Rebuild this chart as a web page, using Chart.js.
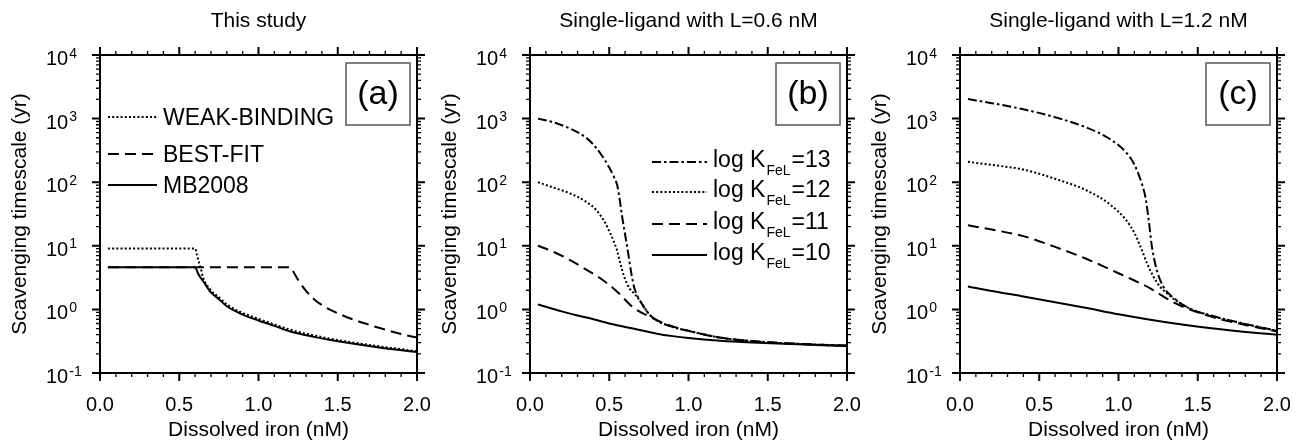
<!DOCTYPE html>
<html>
<head>
<meta charset="utf-8">
<script src="https://cdn.jsdelivr.net/npm/chart.js@4.4.1/dist/chart.umd.min.js"></script>
<style>
  html, body { margin: 0; background: #fff; }
  #wrap { position: relative; width: 1301px; height: 447px; overflow: hidden; }
  .panel { position: absolute; top: 0; width: 433px; height: 447px; }
</style>
</head>
<body>
<div id="wrap">
  <div class="panel" style="left:0px"><canvas id="chartA"></canvas></div>
  <div class="panel" style="left:430px"><canvas id="chartB"></canvas></div>
  <div class="panel" style="left:860px"><canvas id="chartC"></canvas></div>
</div>
<script>
// axis ticks
const xTickLabels = ['0.0', '0.5', '1.0', '1.5', '2.0'];
const yExponents = [-1, 0, 1, 2, 3, 4];

// (a) This study
const ironWeakA = [0.05, 0.6, 0.61, 0.62, 0.635, 0.65, 0.7, 0.75, 0.8, 0.9, 1.0, 1.1, 1.2, 1.35, 1.5, 1.75, 2.0];
const tauWeakA = [9.1, 9.1, 7.4, 6.0, 4.5, 3.2, 2.0, 1.55, 1.2, 0.88, 0.71, 0.58, 0.48, 0.39, 0.33, 0.265, 0.22];
const ironBestA = [0.05, 1.2, 1.22, 1.25, 1.3, 1.35, 1.4, 1.5, 1.6, 1.7, 1.8, 1.9, 2.0];
const tauBestA = [4.6, 4.6, 3.9, 2.9, 1.95, 1.45, 1.17, 0.87, 0.69, 0.57, 0.48, 0.41, 0.36];
const ironMbA = [0.05, 0.6, 0.62, 0.65, 0.7, 0.75, 0.8, 0.9, 1.0, 1.1, 1.2, 1.35, 1.5, 1.75, 2.0];
const tauMbA = [4.6, 4.6, 3.6, 2.8, 1.85, 1.45, 1.12, 0.83, 0.67, 0.55, 0.45, 0.37, 0.315, 0.255, 0.214];

// (b) single ligand, L = 0.6 nM
const ironK13B = [0.05, 0.15, 0.25, 0.35, 0.4, 0.45, 0.5, 0.53, 0.55, 0.565, 0.58, 0.6, 0.62, 0.64, 0.66, 0.7, 0.75, 0.8, 0.9, 1.0, 1.2, 1.4, 1.6, 1.8, 2.0];
const tauK13B = [1000, 870, 700, 510, 390, 270, 170, 120, 90, 55, 30, 15, 7.5, 3.6, 2.1, 1.3, 0.85, 0.67, 0.53, 0.46, 0.36, 0.318, 0.295, 0.28, 0.27];
const ironK12B = [0.05, 0.15, 0.25, 0.35, 0.42, 0.47, 0.5, 0.53, 0.55, 0.57, 0.59, 0.61, 0.63, 0.66, 0.7, 0.75, 0.8, 0.9, 1.0, 1.2, 1.4, 1.6, 1.8, 2.0];
const tauK12B = [100, 82, 67, 50, 36, 24, 17, 11.5, 8.3, 5.3, 3.5, 2.6, 2.1, 1.75, 1.3, 0.85, 0.67, 0.53, 0.46, 0.36, 0.318, 0.295, 0.28, 0.27];
const ironK11B = [0.05, 0.15, 0.25, 0.35, 0.45, 0.55, 0.65, 0.75, 0.85, 1.0, 1.2, 1.4, 1.6, 1.8, 2.0];
const tauK11B = [10, 8.0, 6.0, 4.3, 3.0, 1.9, 1.08, 0.78, 0.6, 0.46, 0.36, 0.316, 0.294, 0.279, 0.268];
const ironK10B = [0.05, 0.1, 0.2, 0.3, 0.4, 0.5, 0.6, 0.7, 0.8, 0.9, 1.0, 1.2, 1.4, 1.6, 1.8, 2.0];
const tauK10B = [1.2, 1.1, 0.93, 0.8, 0.7, 0.6, 0.53, 0.47, 0.415, 0.38, 0.355, 0.322, 0.302, 0.288, 0.276, 0.265];

// (c) single ligand, L = 1.2 nM
const ironK13C = [0.05, 0.2, 0.4, 0.6, 0.8, 0.95, 1.05, 1.1, 1.15, 1.17, 1.19, 1.21, 1.24, 1.28, 1.35, 1.45, 1.6, 1.8, 2.0];
const tauK13C = [2030, 1750, 1400, 1050, 720, 470, 290, 190, 90, 58, 26, 10, 4.3, 2.35, 1.5, 1.03, 0.78, 0.59, 0.46];
const ironK12C = [0.05, 0.2, 0.4, 0.6, 0.8, 0.95, 1.05, 1.1, 1.14, 1.18, 1.22, 1.26, 1.3, 1.35, 1.45, 1.6, 1.8, 2.0];
const tauK12C = [209, 187, 158, 113, 74, 44, 25, 16, 9.5, 5.3, 3.3, 2.3, 1.85, 1.45, 1.03, 0.78, 0.59, 0.46];
const ironK11C = [0.05, 0.2, 0.4, 0.6, 0.8, 1.0, 1.1, 1.2, 1.3, 1.4, 1.5, 1.6, 1.8, 2.0];
const tauK11C = [21, 18, 14.2, 9.6, 6.2, 3.7, 2.85, 2.15, 1.5, 1.12, 0.9, 0.75, 0.57, 0.45];
const ironK10C = [0.05, 0.2, 0.4, 0.6, 0.8, 1.0, 1.2, 1.4, 1.6, 1.8, 2.0];
const tauK10C = [2.3, 1.95, 1.6, 1.3, 1.05, 0.84, 0.69, 0.58, 0.5, 0.44, 0.4];

const legendA = ['WEAK-BINDING', 'BEST-FIT', 'MB2008'];
const legendK = ['13', '12', '11', '10'];

const FONT = "'Liberation Sans', Arial, Helvetica, sans-serif";
const DOT = [2, 2.2];
const DASH = [11, 6];
const DASHDOT = [9, 3, 2.5, 3];
const SOLID = [];

Chart.defaults.font.family = FONT;
Chart.defaults.color = '#000';

const toPoints = (xs, ys) => xs.map((x, i) => ({ x, y: ys[i] }));

// frame, outward ticks, y labels with exponents, panel tag and legend
const decorations = {
  id: 'decorations',
  afterDatasetsDraw(chart, args, opts) {
    const { ctx, chartArea: a, scales: { x, y } } = chart;
    ctx.save();
    ctx.strokeStyle = '#000';

    ctx.lineWidth = 2;
    ctx.strokeRect(a.left, a.top, a.right - a.left, a.bottom - a.top);

    const tick = (len, width, draw) => {
      ctx.lineWidth = width;
      ctx.beginPath();
      draw(len);
      ctx.stroke();
    };
    for (let i = 0; i <= 20; i++) {
      const px = x.getPixelForValue(i / 10);
      const major = i % 5 === 0;
      tick(major ? 8 : 4, major ? 2 : 1.3, (len) => {
        ctx.moveTo(px, a.bottom); ctx.lineTo(px, a.bottom + len);
        ctx.moveTo(px, a.top); ctx.lineTo(px, a.top - len);
      });
    }
    yExponents.forEach((e) => {
      for (let m = 1; m <= 9; m++) {
        if (e === 4 && m > 1) break;
        const py = y.getPixelForValue(m * Math.pow(10, e));
        const major = m === 1;
        tick(major ? 8 : 4, major ? 2 : 1.3, (len) => {
          ctx.moveTo(a.left, py); ctx.lineTo(a.left - len, py);
          ctx.moveTo(a.right, py); ctx.lineTo(a.right + len, py);
        });
      }
    });

    // y tick labels: 10 with superscript exponent
    ctx.fillStyle = '#000';
    ctx.textAlign = 'left';
    ctx.textBaseline = 'alphabetic';
    yExponents.forEach((e) => {
      const py = y.getPixelForValue(Math.pow(10, e));
      ctx.font = `20px ${FONT}`;
      ctx.fillText('10', 46, py + 10);
      const w = ctx.measureText('10').width;
      ctx.font = `14px ${FONT}`;
      ctx.fillText(String(e), 47 + w, py + 2.5);
    });

    // panel tag box
    ctx.strokeStyle = '#555';
    ctx.lineWidth = 1.5;
    ctx.strokeRect(a.left + 246, a.top + 8, 64, 62);
    ctx.font = `34px ${FONT}`;
    ctx.textAlign = 'center';
    ctx.textBaseline = 'middle';
    ctx.fillText(opts.tag, a.left + 278, a.top + 40);

    // legend
    ctx.textAlign = 'left';
    ctx.textBaseline = 'alphabetic';
    ctx.strokeStyle = '#000';
    ctx.lineWidth = 2;
    (opts.legend || []).forEach((item) => {
      const ly = a.top + item.dy;
      ctx.setLineDash(item.dash);
      ctx.beginPath();
      ctx.moveTo(a.left + item.x0, ly);
      ctx.lineTo(a.left + item.x1, ly);
      ctx.stroke();
      ctx.setLineDash([]);
      let tx = a.left + item.tx;
      const base = ly + item.base;
      ctx.font = `23px ${FONT}`;
      ctx.fillText(item.text, tx, base);
      if (item.sub) {
        tx += ctx.measureText(item.text).width + 1;
        ctx.font = `14px ${FONT}`;
        ctx.fillText(item.sub, tx, base + 8);
        tx += ctx.measureText(item.sub).width + 1;
        ctx.font = `23px ${FONT}`;
        ctx.fillText(item.tail, tx, base);
      }
    });
    ctx.restore();
  }
};

function makePanel(canvasId, title, series, tag, legend) {
  return new Chart(document.getElementById(canvasId), {
    type: 'line',
    data: {
      datasets: series.map((s) => ({
        data: toPoints(s.xs, s.ys),
        borderColor: '#000',
        borderWidth: 2,
        borderDash: s.dash,
        pointRadius: 0,
        fill: false,
        cubicInterpolationMode: 'monotone'
      }))
    },
    options: {
      responsive: true,
      maintainAspectRatio: false,
      animation: false,
      layout: { padding: { left: 0, right: 16, top: 0, bottom: 0 } },
      scales: {
        x: {
          type: 'linear',
          position: 'bottom',
          min: 0,
          max: 2,
          grid: { display: false, drawTicks: false },
          border: { display: false },
          ticks: {
            stepSize: 0.5,
            padding: 20,
            maxRotation: 0,
            font: { size: 20 },
            callback: (v, i) => xTickLabels[i]
          },
          title: {
            display: true,
            text: 'Dissolved iron (nM)',
            font: { size: 21 },
            padding: { top: 0, bottom: 4 }
          },
          afterFit: (s) => { s.height = 74; s.paddingLeft = 0; s.paddingRight = 0; }
        },
        xTop: {
          type: 'linear',
          position: 'top',
          min: 0,
          max: 2,
          grid: { display: false, drawTicks: false },
          border: { display: false },
          ticks: { display: false },
          title: {
            display: true,
            text: title,
            font: { size: 21 },
            padding: { top: 9, bottom: 0 }
          },
          afterFit: (s) => { s.height = 55; s.paddingLeft = 0; s.paddingRight = 0; }
        },
        y: {
          type: 'logarithmic',
          position: 'left',
          min: 0.1,
          max: 10000,
          grid: { display: false, drawTicks: false },
          border: { display: false },
          ticks: { display: false },
          title: {
            display: true,
            text: 'Scavenging timescale (yr)',
            font: { size: 21 },
            padding: { top: 8, bottom: 0 }
          },
          afterFit: (s) => { s.width = 100; s.paddingTop = 0; s.paddingBottom = 0; }
        }
      },
      plugins: {
        legend: { display: false },
        tooltip: { enabled: false },
        decorations: { tag, legend }
      }
    },
    plugins: [decorations]
  });
}

makePanel('chartA', 'This study', [
  { xs: ironWeakA, ys: tauWeakA, dash: DOT },
  { xs: ironBestA, ys: tauBestA, dash: DASH },
  { xs: ironMbA, ys: tauMbA, dash: SOLID }
], '(a)', [
  { text: legendA[0], dash: DOT, dy: 62, x0: 8, x1: 57, tx: 63, base: 8 },
  { text: legendA[1], dash: DASH, dy: 99, x0: 8, x1: 57, tx: 63, base: 8 },
  { text: legendA[2], dash: SOLID, dy: 130, x0: 8, x1: 57, tx: 63, base: 8 }
]);

const seriesLegendB = [DASHDOT, DOT, DASH, SOLID].map((dash, i) => ({
  text: 'log K', sub: 'FeL', tail: '=' + legendK[i], dash,
  dy: [107, 137, 169, 200][i], x0: 122, x1: 177, tx: 183, base: 5
}));

makePanel('chartB', 'Single-ligand with L=0.6 nM', [
  { xs: ironK13B, ys: tauK13B, dash: DASHDOT },
  { xs: ironK12B, ys: tauK12B, dash: DOT },
  { xs: ironK11B, ys: tauK11B, dash: DASH },
  { xs: ironK10B, ys: tauK10B, dash: SOLID }
], '(b)', seriesLegendB);

makePanel('chartC', 'Single-ligand with L=1.2 nM', [
  { xs: ironK13C, ys: tauK13C, dash: DASHDOT },
  { xs: ironK12C, ys: tauK12C, dash: DOT },
  { xs: ironK11C, ys: tauK11C, dash: DASH },
  { xs: ironK10C, ys: tauK10C, dash: SOLID }
], '(c)', []);
</script>
</body>
</html>
